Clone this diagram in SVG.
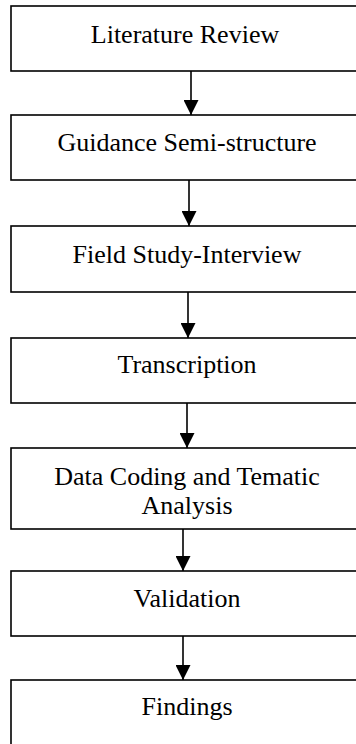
<svg xmlns="http://www.w3.org/2000/svg" width="356" height="744" viewBox="0 0 356 744">
<style>
.box{fill:#fff;stroke:#000;stroke-width:1.6}
.t{font-family:"Liberation Serif","Times New Roman",serif;font-size:26px;fill:#000;text-anchor:middle}
.c{stroke:#000;stroke-width:1.6;fill:none;marker-end:url(#ah)}
</style>
<defs>
<marker id="ah" markerUnits="userSpaceOnUse" markerWidth="15" markerHeight="15" refX="15" refY="7.5" orient="auto" viewBox="0 0 15 15">
<path d="M0,0 L15,7.5 L0,15 z" fill="#000"/>
</marker>
</defs>
<rect width="356" height="744" fill="#fff"/>
<g id="n1"><rect class="box" x="11" y="6" width="352" height="65"/><text class="t" x="185" y="43">Literature Review</text></g>
<g id="n2"><rect class="box" x="11" y="115" width="352" height="65"/><text class="t" x="187" y="151">Guidance Semi-structure</text></g>
<g id="n3"><rect class="box" x="11" y="226" width="352" height="66"/><text class="t" x="187" y="263">Field Study-Interview</text></g>
<g id="n4"><rect class="box" x="11" y="338" width="352" height="65"/><text class="t" x="187" y="373">Transcription</text></g>
<g id="n5"><rect class="box" x="11" y="448" width="352" height="81"/><text class="t" x="187" y="485">Data Coding and Tematic</text><text class="t" x="187" y="514">Analysis</text></g>
<g id="n6"><rect class="box" x="11" y="571" width="352" height="65"/><text class="t" x="187" y="607">Validation</text></g>
<g id="n7"><rect class="box" x="11" y="680" width="352" height="80"/><text class="t" x="187" y="715">Findings</text></g>
<g id="connectors">
<line class="c" x1="191" y1="71" x2="191" y2="115"/>
<line class="c" x1="189" y1="180" x2="189" y2="226"/>
<line class="c" x1="188" y1="292" x2="188" y2="338"/>
<line class="c" x1="187" y1="403" x2="187" y2="448"/>
<line class="c" x1="183" y1="529" x2="183" y2="571"/>
<line class="c" x1="183" y1="636" x2="183" y2="680"/>
</g>
</svg>
